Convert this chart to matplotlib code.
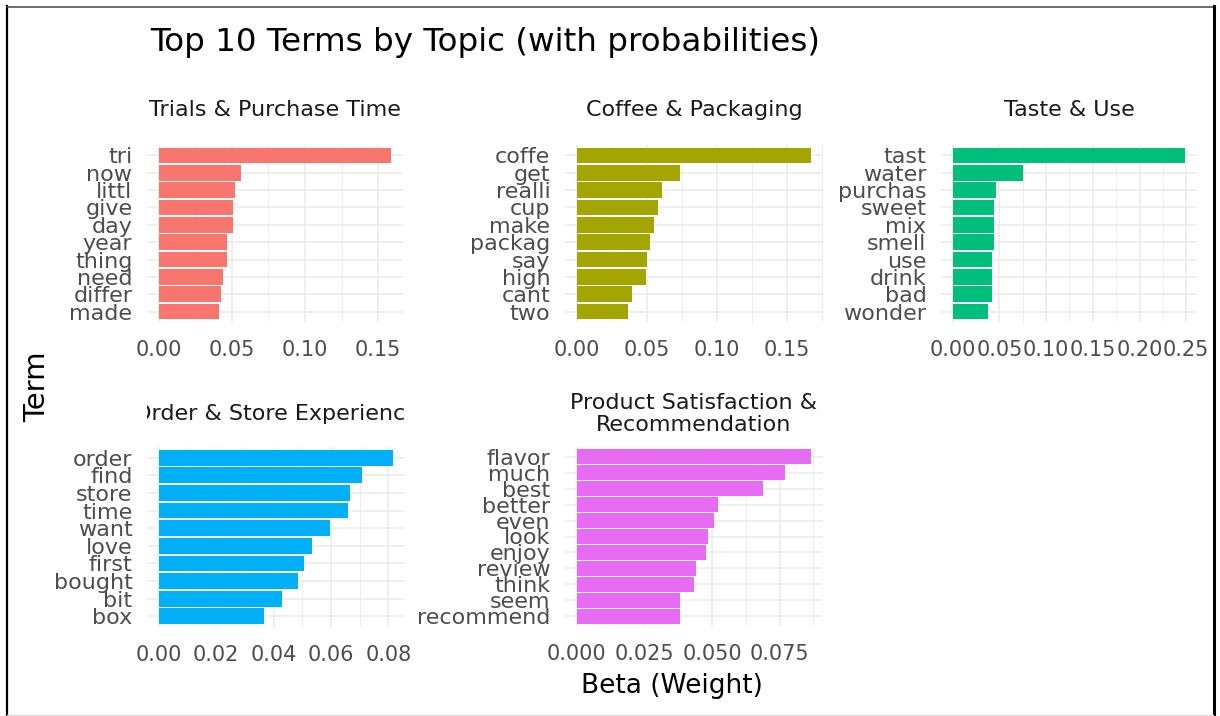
import matplotlib
matplotlib.use('Agg')
import matplotlib.pyplot as plt
from matplotlib.ticker import FixedLocator, AutoMinorLocator, FormatStrFormatter
from matplotlib.transforms import Bbox, TransformedBbox
from matplotlib.lines import Line2D

W, H = 1220, 716

topics = ['Trials & Purchase Time', 'Coffee & Packaging', 'Taste & Use',
          'Order & Store Experience', 'Product Satisfaction &\nRecommendation']

terms1 = ['tri', 'now', 'littl', 'give', 'day', 'year', 'thing', 'need', 'differ', 'made']
beta1 = [0.159, 0.0564, 0.052, 0.051, 0.051, 0.0468, 0.0468, 0.0441, 0.0428, 0.0414]

terms2 = ['coffe', 'get', 'realli', 'cup', 'make', 'packag', 'say', 'high', 'cant', 'two']
beta2 = [0.1674, 0.0738, 0.061, 0.0583, 0.0555, 0.0524, 0.0498, 0.0497, 0.0398, 0.0369]

terms3 = ['tast', 'water', 'purchas', 'sweet', 'mix', 'smell', 'use', 'drink', 'bad', 'wonder']
beta3 = [0.249, 0.0757, 0.046, 0.0443, 0.0443, 0.0443, 0.042, 0.042, 0.042, 0.038]

terms4 = ['order', 'find', 'store', 'time', 'want', 'love', 'first', 'bought', 'bit', 'box']
beta4 = [0.0817, 0.0707, 0.0665, 0.0658, 0.0596, 0.0534, 0.0506, 0.0485, 0.043, 0.0367]

terms5 = ['flavor', 'much', 'best', 'better', 'even', 'look', 'enjoy', 'review', 'think',
          'seem', 'recommend']
beta5 = [0.0867, 0.0771, 0.069, 0.0521, 0.0506, 0.0484, 0.0477, 0.044, 0.0432, 0.038, 0.038]

xticks1 = [0.0, 0.05, 0.10, 0.15]
xticks2 = [0.0, 0.05, 0.10, 0.15]
xticks3 = [0.0, 0.05, 0.10, 0.15, 0.20, 0.25]
xticks4 = [0.0, 0.02, 0.04, 0.06, 0.08]
xticks5 = [0.0, 0.025, 0.050, 0.075]

colors = ['#F8766D', '#A3A500', '#00BF7D', '#00B0F6', '#E76BF3']

# panel boxes in pixels: left, top, right, bottom
boxes = [(147, 145, 403, 322), (565, 145, 823, 322), (941, 145, 1197, 322),
         (147, 447, 405, 627), (565, 447, 823, 626)]
strip_y = [110, 110, 110, 414, 414]

fig = plt.figure(figsize=(W / 100, H / 100), dpi=100)
fig.patch.set_facecolor('white')

data = [(terms1, beta1, xticks1, '%.2f'), (terms2, beta2, xticks2, '%.2f'),
        (terms3, beta3, xticks3, '%.2f'), (terms4, beta4, xticks4, '%.2f'),
        (terms5, beta5, xticks5, '%.3f')]

for i, (terms, beta, xt, fmt) in enumerate(data):
    l, t, r, b = boxes[i]
    ax = fig.add_axes([l / W, 1 - b / H, (r - l) / W, (b - t) / H])
    n = len(terms)
    ypos = [n - 1 - k for k in range(n)]
    ax.barh(ypos, beta, height=0.9, color=colors[i], zorder=3)
    mx = max(beta)
    ax.set_xlim(-0.05 * mx, 1.05 * mx)
    ax.set_ylim(-0.6, n - 1 + 0.6)
    ax.set_yticks(ypos)
    ax.set_yticklabels(terms)
    ax.xaxis.set_major_locator(FixedLocator(xt))
    ax.xaxis.set_major_formatter(FormatStrFormatter(fmt))
    ax.xaxis.set_minor_locator(AutoMinorLocator(2))
    ax.grid(True, which='major', color='#EBEBEB', linewidth=1.1, zorder=0)
    ax.grid(True, which='minor', axis='x', color='#EBEBEB', linewidth=0.6, zorder=0)
    ax.set_axisbelow(True)
    for s in ax.spines.values():
        s.set_visible(False)
    ax.tick_params(axis='both', which='both', length=0)
    ax.tick_params(axis='y', labelsize=16, labelcolor='#4D4D4D', pad=10.5)
    ax.tick_params(axis='x', labelsize=15, labelcolor='#4D4D4D', pad=13)

    # strip title, clipped to the panel width like ggplot does
    st = fig.text((l + r) / 2 / W, 1 - strip_y[i] / H, topics[i], ha='center', va='center',
                  fontsize=16, color='#1A1A1A', linespacing=1.1)
    st.set_clip_box(TransformedBbox(Bbox([[l / W, 0], [r / W, 1]]), fig.transFigure))
    st.set_clip_on(True)

fig.text(150 / W, 1 - 42 / H, 'Top 10 Terms by Topic (with probabilities)', ha='left',
         va='center', fontsize=23.4, color='black')
fig.text(672 / W, 1 - 686 / H, 'Beta (Weight)', ha='center', va='center', fontsize=19,
         color='black')
fig.text(37 / W, 1 - 387 / H, 'Term', ha='center', va='center', rotation=90, fontsize=21,
         color='black')

# screenshot frame
fig.add_artist(Line2D([7 / W, 7 / W], [1 - 6 / H, 0], transform=fig.transFigure,
                      color='black', linewidth=1.6))
fig.add_artist(Line2D([7 / W, 1213 / W], [1 - 6.5 / H, 1 - 6.5 / H], transform=fig.transFigure,
                      color='#444444', linewidth=1.1))
fig.add_artist(Line2D([1213.5 / W, 1213.5 / W], [1 - 6 / H, 0], transform=fig.transFigure,
                      color='black', linewidth=2.2))
fig.add_artist(Line2D([7 / W, 1213 / W], [1 - 715 / H, 1 - 715 / H], transform=fig.transFigure,
                      color='#DDDDDD', linewidth=1.0))

fig.savefig('out.png', dpi=100)
